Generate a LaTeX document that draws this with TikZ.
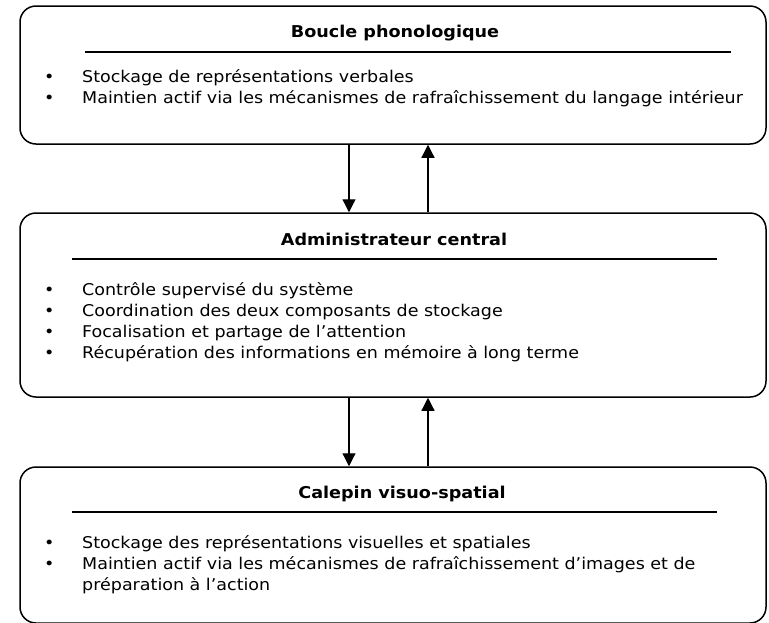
\documentclass[tikz,border=0pt]{standalone}
\usepackage{fontspec}
\setmainfont{DejaVu Sans}[FakeStretch=1.08]
\usetikzlibrary{arrows.meta,positioning}
\tikzstyle{membox} = [draw, rectangle, rounded corners=16pt, line width=1.5pt,
    minimum width=746pt, inner sep=0pt]
\tikzstyle{memtitle} = [anchor=base, inner sep=0pt,
    font=\fontsize{16.3pt}{20pt}\selectfont\bfseries]
\tikzstyle{memlist} = [anchor=base west, align=left, inner sep=0pt,
    font=\fontsize{16.2pt}{21pt}\selectfont]
\tikzstyle{memrule} = [line width=1.6pt]
\tikzstyle{arrow} = [line width=1.2pt, -{Triangle[length=13pt,width=13pt]}]
\newcommand{\puce}{\makebox[38pt][l]{•}}

\begin{document}
\begin{tikzpicture}[x=1pt,y=1pt]
\useasboundingbox (0,0) rectangle (769,-622);
% the three components
\node[membox, minimum height=138pt] (boucle) at (393,-75) {};
\node[membox, minimum height=184pt] (admin) at (393,-305) {};
\node[membox, minimum height=156pt] (calepin) at (393,-545) {};

\node[memtitle] (boucle-titre) at (395,-37) {Boucle phonologique};
\draw[memrule] (85,-52) -- (731,-52);
% base anchor = last line
\node[memlist] (boucle-liste) at (44,-103) {%
    \puce Stockage de représentations verbales\\
    \puce Maintien actif via les mécanismes de rafraîchissement du langage intérieur};

\node[memtitle] (admin-titre) at (394,-245) {Administrateur central};
\draw[memrule] (72,-259) -- (717,-259);
\node[memlist] (admin-liste) at (44,-358) {%
    \puce Contrôle supervisé du système\\
    \puce Coordination des deux composants de stockage\\
    \puce Focalisation et partage de l’attention\\
    \puce Récupération des informations en mémoire à long terme};

\node[memtitle] (calepin-titre) at (402,-498) {Calepin visuo-spatial};
\draw[memrule] (72,-512) -- (717,-512);
\node[memlist] (calepin-liste) at (44,-590) {%
    \puce Stockage des représentations visuelles et spatiales\\
    \puce Maintien actif via les mécanismes de rafraîchissement d’images et de\\
    \hspace*{38pt}préparation à l’action};

% exchanges
\draw[arrow] ([xshift=-44pt]boucle.south) -- ([xshift=-44pt]admin.north);
\draw[arrow] ([xshift=35pt]admin.north) -- ([xshift=35pt]boucle.south);
\draw[arrow] ([xshift=-44pt]admin.south) -- ([xshift=-44pt]calepin.north);
\draw[arrow] ([xshift=35pt]calepin.north) -- ([xshift=35pt]admin.south);
\end{tikzpicture}
\end{document}
